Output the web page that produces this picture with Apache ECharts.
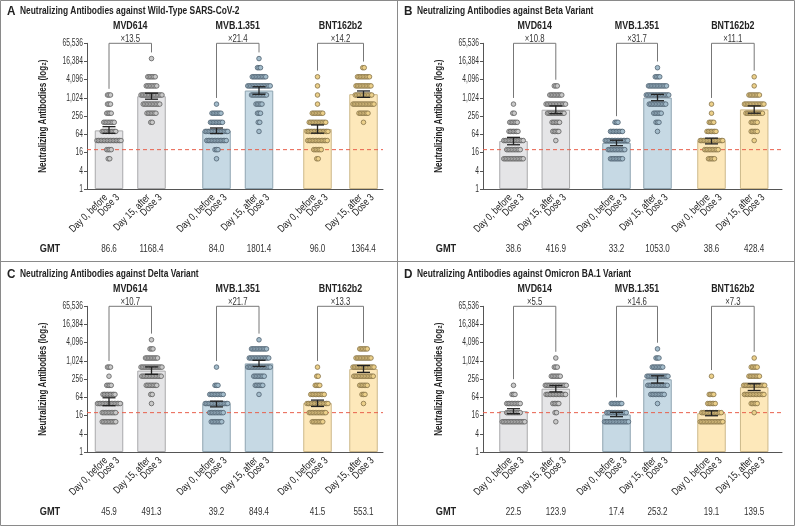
<!DOCTYPE html>
<html>
<head>
<meta charset="utf-8">
<script src="https://cdn.jsdelivr.net/npm/echarts@6/dist/echarts.min.js"></script>
<style>
html, body { margin: 0; padding: 0; background: #fff; }
#chart { width: 795px; height: 526px; }
</style>
</head>
<body>
<div id="chart"></div>
<script>
'use strict';

var FONT = '"Liberation Sans", Arial, sans-serif';
var NARROW = 0.77; // horizontal squeeze, the journal font is condensed

// titer levels that the individual dots sit on
var levels = [10, 20, 40, 80, 160, 320, 640, 1280, 2560, 5120, 10240, 20480];
var yTicks = [1, 4, 16, 64, 256, 1024, 4096, 16384, 65536];
var vaccines = ['MVD614', 'MVB.1.351', 'BNT162b2'];
var dayLabels = ['Day 0, before', 'Day 15, after'];
var lloq = 20;

var panelLetters = ['A', 'B', 'C', 'D'];
var panelTitles = [
    'Neutralizing Antibodies against Wild-Type SARS-CoV-2',
    'Neutralizing Antibodies against Beta Variant',
    'Neutralizing Antibodies against Delta Variant',
    'Neutralizing Antibodies against Omicron BA.1 Variant'
];

// GMT per bar: MVD614 d0, d15, MVB.1.351 d0, d15, BNT162b2 d0, d15
var gmtA = [86.6, 1168.4, 84.0, 1801.4, 96.0, 1364.4];
var gmtB = [38.6, 416.9, 33.2, 1053.0, 38.6, 428.4];
var gmtC = [45.9, 491.3, 39.2, 849.4, 41.5, 553.1];
var gmtD = [22.5, 123.9, 17.4, 253.2, 19.1, 139.5];

// 95% CI
var ciLowA = [69, 930, 68, 1350, 70, 1070];
var ciHighA = [115, 1470, 104, 2400, 131, 1740];
var ciLowB = [29, 310, 27, 830, 31, 320];
var ciHighB = [51, 560, 41, 1340, 48, 560];
var ciLowC = [34, 370, 31, 670, 32, 430];
var ciHighC = [62, 650, 48, 1075, 52, 720];
var ciLowD = [18.5, 97, 14.7, 190, 15.8, 108];
var ciHighD = [27, 158, 20.5, 330, 23, 180];

// fold rise day 0 -> day 15 per vaccine
var foldA = [13.5, 21.4, 14.2];
var foldB = [10.8, 31.7, 11.1];
var foldC = [10.7, 21.7, 13.3];
var foldD = [5.5, 14.6, 7.3];

// number of participants at each level (10 ... 20480), one row per bar
var countsA = [
    [2, 4, 17, 10, 8, 4, 3, 3, 0, 0, 0, 0],
    [0, 0, 0, 0, 2, 7, 12, 15, 8, 6, 0, 1],
    [1, 3, 14, 16, 9, 7, 1, 0, 0, 0, 0, 0],
    [0, 0, 0, 1, 2, 3, 5, 11, 16, 10, 3, 1],
    [2, 6, 14, 15, 12, 8, 1, 1, 1, 1, 0, 0],
    [0, 0, 0, 0, 1, 7, 15, 12, 11, 9, 2, 0]
];
var countsB = [
    [14, 10, 14, 7, 6, 2, 1, 0, 0, 0, 0, 0],
    [0, 0, 1, 5, 6, 12, 14, 9, 3, 0, 0, 0],
    [9, 12, 16, 9, 3, 0, 0, 0, 0, 0, 0, 0],
    [0, 0, 0, 1, 3, 6, 12, 16, 13, 4, 1, 0],
    [5, 10, 16, 7, 4, 1, 1, 0, 0, 0, 0, 0],
    [0, 0, 1, 5, 5, 12, 14, 8, 1, 1, 0, 0]
];
var countsC = [
    [10, 10, 16, 9, 4, 1, 3, 0, 0, 0, 0, 0],
    [0, 0, 1, 2, 8, 14, 15, 9, 3, 1, 0, 0],
    [8, 10, 16, 10, 3, 0, 1, 0, 0, 0, 0, 0],
    [0, 0, 0, 1, 6, 8, 16, 14, 11, 1, 0, 0],
    [8, 12, 15, 10, 4, 2, 1, 0, 0, 0, 0, 0],
    [0, 0, 1, 3, 6, 14, 15, 11, 6, 0, 0, 0]
];
var countsD = [
    [16, 10, 10, 3, 1, 0, 0, 0, 0, 0, 0, 0],
    [1, 2, 5, 14, 15, 7, 3, 1, 0, 0, 0, 0],
    [17, 14, 8, 0, 0, 0, 0, 0, 0, 0, 0, 0],
    [0, 0, 1, 10, 14, 15, 8, 3, 1, 0, 0, 0],
    [16, 14, 6, 4, 0, 1, 0, 0, 0, 0, 0, 0],
    [0, 1, 5, 14, 15, 8, 5, 1, 0, 0, 0, 0]
];

var panels = [
    {gmt: gmtA, lo: ciLowA, hi: ciHighA, fold: foldA, counts: countsA},
    {gmt: gmtB, lo: ciLowB, hi: ciHighB, fold: foldB, counts: countsB},
    {gmt: gmtC, lo: ciLowC, hi: ciHighC, fold: foldC, counts: countsC},
    {gmt: gmtD, lo: ciLowD, hi: ciHighD, fold: foldD, counts: countsD}
];

// layout (px)
var boxes = [
    {left: 87, top: 43.3, width: 296},
    {left: 483, top: 43.3, width: 299},
    {left: 87, top: 306.3, width: 296},
    {left: 483, top: 306.3, width: 299}
];
var plotHeight = 145.7;
var slotsLeft = [22, 64.5, 129.5, 172, 230.5, 276.5];
var slotsRight = [30.5, 72.8, 133.5, 174.5, 228.5, 271.2];
var barWidth = 28.5;
var dotStep = 1.5;

var barFill = ['#e5e5e7', '#c6d9e4', '#fde8ba'];
var barEdge = ['#a9a9ab', '#8fa4b1', '#cdb88a'];
var dotFill = ['#c9c9c9', '#a3bccb', '#ecd08a'];
var dotEdge = ['#5e5e5e', '#4f6170', '#857248'];

// condensed text element
function label(x, y, text, o) {
    o = o || {};
    return {
        type: 'text', x: x, y: y, rotation: o.rotation || 0,
        scaleX: o.squeeze || NARROW,
        style: {
            text: text, fill: o.color || '#222', fontFamily: FONT,
            fontSize: o.size || 10, fontWeight: o.weight || 'normal',
            align: o.align || 'center', verticalAlign: o.valign || 'middle'
        }
    };
}

var myChart = echarts.init(document.getElementById('chart'), null, {renderer: 'canvas'});

var grids = [], xAxes = [], yAxes = [], series = [], graphics = [];

panels.forEach(function (d, p) {
    var box = boxes[p];
    var slots = p % 2 === 0 ? slotsLeft : slotsRight;

    grids.push({left: box.left, top: box.top, width: box.width, height: plotHeight});
    xAxes.push({
        gridIndex: p, type: 'value', min: 0, max: box.width,
        axisLine: {show: true, onZero: false, lineStyle: {color: '#555', width: 1}},
        axisTick: {show: false}, axisLabel: {show: false}, splitLine: {show: false}
    });
    yAxes.push({
        gridIndex: p, type: 'log', logBase: 2, min: 1, max: 65536, interval: 2,
        axisLine: {show: true, lineStyle: {color: '#555', width: 1}},
        axisTick: {show: true, length: 3, lineStyle: {color: '#555'}},
        axisLabel: {show: false},
        splitLine: {show: false}
    });

    // panel heading
    var tx = p % 2 === 0 ? 7 : 404;
    var ty = p < 2 ? 11 : 274;
    graphics.push(label(tx, ty, panelLetters[p], {size: 13, weight: 'bold', align: 'left', squeeze: 0.9}));
    graphics.push(label(tx + 13, ty, panelTitles[p], {size: 11.5, weight: 'bold', align: 'left', squeeze: 0.73}));

    // bars at the GMT
    series.push({
        type: 'bar', xAxisIndex: p, yAxisIndex: p, barWidth: barWidth, z: 2,
        data: slots.map(function (x, i) {
            var g = i >> 1;
            return {value: [x, d.gmt[i]], itemStyle: {color: barFill[g], borderColor: barEdge[g], borderWidth: 1}};
        })
    });

    // lower limit of quantification
    series.push({
        type: 'line', xAxisIndex: p, yAxisIndex: p, z: 2.5, symbol: 'none', silent: true,
        lineStyle: {color: '#e8604c', type: [4, 3], width: 1},
        data: [[0, lloq], [box.width, lloq]]
    });

    // individual participants
    var dots = [];
    d.counts.forEach(function (row, i) {
        var g = i >> 1;
        row.forEach(function (n, k) {
            for (var j = 0; j < n; j++) {
                dots.push({
                    value: [slots[i] + (j - (n - 1) / 2) * dotStep, levels[k]],
                    itemStyle: {color: dotFill[g], borderColor: dotEdge[g]}
                });
            }
        });
    });
    series.push({
        type: 'scatter', xAxisIndex: p, yAxisIndex: p, z: 3,
        symbol: 'circle', symbolSize: 4.6,
        itemStyle: {borderWidth: 0.8, opacity: 1},
        data: dots
    });

    // 95% CI error bars
    series.push({
        type: 'custom', xAxisIndex: p, yAxisIndex: p, z: 4,
        encode: {x: 0, y: [1, 2]},
        data: slots.map(function (x, i) { return [x, d.lo[i], d.hi[i]]; }),
        renderItem: function (params, api) {
            var lo = api.coord([api.value(0), api.value(1)]);
            var hi = api.coord([api.value(0), api.value(2)]);
            var st = {stroke: '#222', lineWidth: 1.3};
            return {
                type: 'group', children: [
                    {type: 'line', shape: {x1: lo[0], y1: lo[1], x2: hi[0], y2: hi[1]}, style: st},
                    {type: 'line', shape: {x1: lo[0] - 6.5, y1: lo[1], x2: lo[0] + 6.5, y2: lo[1]}, style: st},
                    {type: 'line', shape: {x1: hi[0] - 6.5, y1: hi[1], x2: hi[0] + 6.5, y2: hi[1]}, style: st}
                ]
            };
        }
    });

    // brackets with fold rise and vaccine names
    series.push({
        type: 'custom', xAxisIndex: p, yAxisIndex: p, z: 4, clip: false,
        encode: {x: [0, 1], y: [2, 3]},
        data: vaccines.map(function (v, g) {
            var top = [0, 1].map(function (s) {
                var row = d.counts[2 * g + s], k = row.length - 1;
                while (k > 0 && !row[k]) k--;
                return levels[k] * 1.6;
            });
            return [slots[2 * g], slots[2 * g + 1], top[0], top[1], g];
        }),
        renderItem: function (params, api) {
            var g = api.value(4);
            var a = api.coord([api.value(0), api.value(2)]);
            var b = api.coord([api.value(1), api.value(3)]);
            var yTop = api.coord([0, 65536])[1];
            var mid = (a[0] + b[0]) / 2;
            return {
                type: 'group', children: [
                    {type: 'polyline', shape: {points: [[a[0], a[1]], [a[0], yTop], [b[0], yTop], [b[0], b[1]]]},
                        style: {stroke: '#777', lineWidth: 1, fill: 'none'}},
                    label(mid, yTop - 4.5, '\u00d7' + d.fold[g].toFixed(1), {size: 10.5, color: '#333', squeeze: 0.74}),
                    label(mid, yTop - 17.5, vaccines[g], {size: 11.5, weight: 'bold', squeeze: 0.77})
                ]
            };
        }
    });

    // y tick labels and axis name
    series.push({
        type: 'custom', xAxisIndex: p, yAxisIndex: p, z: 4, clip: false,
        encode: {x: 0, y: 1},
        data: yTicks.map(function (v, k) { return [0, v, k]; }),
        renderItem: function (params, api) {
            var pt = api.coord([0, api.value(1)]);
            var kids = [label(pt[0] - 4, pt[1], Math.round(api.value(1)).toLocaleString('en-US'),
                {size: 10, color: '#333', align: 'right', squeeze: 0.67})];
            if (api.value(2) === 0) {
                var mid = (api.coord([0, 1])[1] + api.coord([0, 65536])[1]) / 2;
                kids.push(label(pt[0] - 44, mid, 'Neutralizing Antibodies (log\u2082)',
                    {size: 11.5, weight: 'bold', rotation: Math.PI / 2, squeeze: 0.7}));
            }
            return {type: 'group', children: kids};
        }
    });

    // rotated category labels and GMT row
    series.push({
        type: 'custom', xAxisIndex: p, yAxisIndex: p, z: 4, clip: false,
        encode: {x: 0, y: 1},
        data: slots.map(function (x, i) { return [x, 1, i]; }),
        renderItem: function (params, api) {
            var i = api.value(2);
            var base = api.coord([api.value(0), 1]);
            var kids = [
                label(base[0] - 3, base[1] + 7, dayLabels[i % 2], {size: 10.5, align: 'right', rotation: Math.PI / 4, squeeze: 0.78}),
                label(base[0] + 9, base[1] + 7, 'Dose 3', {size: 10.5, align: 'right', rotation: Math.PI / 4, squeeze: 0.78}),
                label(base[0], base[1] + 60, d.gmt[i].toFixed(1), {size: 10.5, color: '#333', squeeze: 0.77})
            ];
            if (i === 0) {
                var axisX = api.coord([0, 1])[0];
                kids.push(label(axisX - 37, base[1] + 60, 'GMT', {size: 11.5, weight: 'bold', squeeze: 0.8}));
            }
            return {type: 'group', children: kids};
        }
    });
});

graphics.push(
    {type: 'rect', shape: {x: 0.5, y: 0.5, width: 794, height: 525},
        style: {fill: 'none', stroke: '#8a8a8a', lineWidth: 1}, silent: true},
    {type: 'line', shape: {x1: 397.5, y1: 0, x2: 397.5, y2: 526},
        style: {stroke: '#8a8a8a', lineWidth: 1}, silent: true},
    {type: 'line', shape: {x1: 0, y1: 261.5, x2: 795, y2: 261.5},
        style: {stroke: '#8a8a8a', lineWidth: 1}, silent: true}
);

var option = {
    animation: false,
    backgroundColor: '#fff',
    grid: grids,
    xAxis: xAxes,
    yAxis: yAxes,
    series: series,
    graphic: graphics
};

myChart.setOption(option);
window.onresize = function () {
    myChart.resize();
};
</script>
</body>
</html>
